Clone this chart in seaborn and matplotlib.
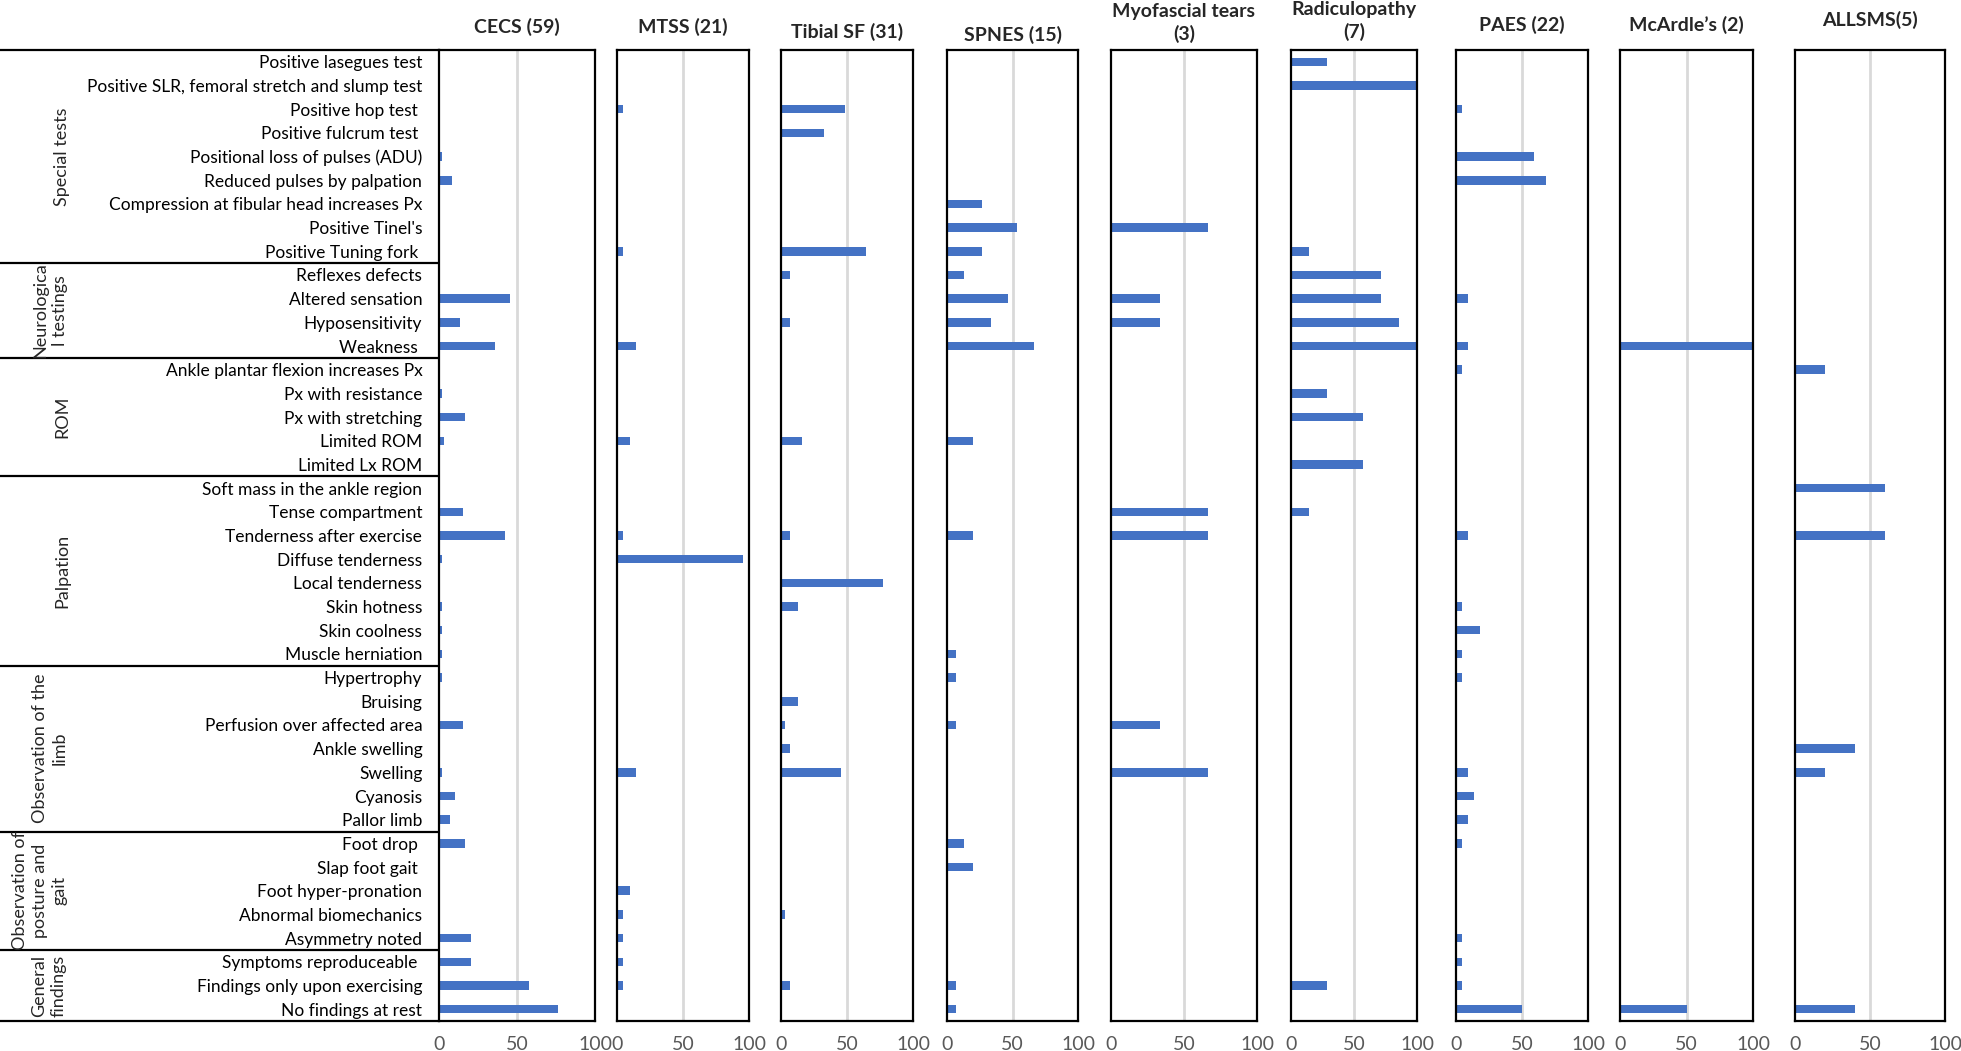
import pandas as pd
import seaborn as sns
import matplotlib.pyplot as plt

# rows of the clinical-findings table (top to bottom)
findings = [
    "Positive lasegues test", "Positive SLR, femoral stretch and slump test",
    "Positive hop test ", "Positive fulcrum test ", "Positional loss of pulses (ADU)",
    "Reduced pulses by palpation", "Compression at fibular head increases Px",
    "Positive Tinel's", "Positive Tuning fork ",
    "Reflexes defects", "Altered sensation", "Hyposensitivity", "Weakness ",
    "Ankle plantar flexion increases Px", "Px with resistance", "Px with stretching",
    "Limited ROM", "Limited Lx ROM",
    "Soft mass in the ankle region", "Tense compartment", "Tenderness after exercise",
    "Diffuse tenderness", "Local tenderness", "Skin hotness", "Skin coolness",
    "Muscle herniation",
    "Hypertrophy", "Bruising", "Perfusion over affected area", "Ankle swelling",
    "Swelling", "Cyanosis", "Pallor limb",
    "Foot drop ", "Slap foot gait ", "Foot hyper-pronation", "Abnormal biomechanics",
    "Asymmetry noted",
    "Symptoms reproduceable ", "Findings only upon exercising", "No findings at rest",
]

groups = ["Special tests", "Neurologica\nl testings", "ROM", "Palpation",
          "Observation of the\nlimb", "Observation of\nposture and\ngait", "General\nfindings"]
group_sizes = [9, 4, 5, 8, 7, 5, 3]

conditions = ["CECS (59)", "MTSS (21)", "Tibial SF (31)", "SPNES (15)",
              "Myofascial tears\n(3)", "Radiculopathy\n(7)", "PAES (22)",
              "McArdle’s (2)", "ALLSMS(5)"]

# percentages per row
cecs = [0, 0, 0, 0, 1.7, 8.5, 0, 0, 0,
        0, 45.8, 13.6, 35.6,
        0, 1.7, 16.9, 3.4, 0,
        0, 15.3, 42.4, 1.7, 0, 1.7, 1.7, 1.7,
        1.7, 0, 15.3, 0, 1.7, 10.2, 6.8,
        16.9, 0, 0, 0, 20.3,
        20.3, 57.6, 76.3]
mtss = [0, 0, 4.8, 0, 0, 0, 0, 0, 4.8,
        0, 0, 0, 14.3,
        0, 0, 0, 9.5, 0,
        0, 0, 4.8, 95.2, 0, 0, 0, 0,
        0, 0, 0, 0, 14.3, 0, 0,
        0, 0, 9.5, 4.8, 4.8,
        4.8, 4.8, 0]
tibial_sf = [0, 0, 48.4, 32.3, 0, 0, 0, 0, 64.5,
             6.5, 0, 6.5, 0,
             0, 0, 0, 16.1, 0,
             0, 0, 6.5, 0, 77.4, 12.9, 0, 0,
             0, 12.9, 3.2, 6.5, 45.2, 0, 0,
             0, 0, 0, 3.2, 0,
             0, 6.5, 0]
spnes = [0, 0, 0, 0, 0, 0, 26.7, 53.3, 26.7,
         13.3, 46.7, 33.3, 66.7,
         0, 0, 0, 20, 0,
         0, 0, 20, 0, 0, 0, 0, 6.7,
         6.7, 0, 6.7, 0, 0, 0, 0,
         13.3, 20, 0, 0, 0,
         0, 6.7, 6.7]
myofascial = [0, 0, 0, 0, 0, 0, 0, 66.7, 0,
              0, 33.3, 33.3, 0,
              0, 0, 0, 0, 0,
              0, 66.7, 66.7, 0, 0, 0, 0, 0,
              0, 0, 33.3, 0, 66.7, 0, 0,
              0, 0, 0, 0, 0,
              0, 0, 0]
radiculopathy = [28.6, 100, 0, 0, 0, 0, 0, 0, 14.3,
                 71.4, 71.4, 85.7, 100,
                 0, 28.6, 57.1, 0, 57.1,
                 0, 14.3, 0, 0, 0, 0, 0, 0,
                 0, 0, 0, 0, 0, 0, 0,
                 0, 0, 0, 0, 0,
                 0, 28.6, 0]
paes = [0, 0, 4.5, 0, 59.1, 68.2, 0, 0, 0,
        0, 9.1, 0, 9.1,
        4.5, 0, 0, 0, 0,
        0, 0, 9.1, 0, 0, 4.5, 18.2, 4.5,
        4.5, 0, 0, 0, 9.1, 13.6, 9.1,
        4.5, 0, 0, 0, 4.5,
        4.5, 4.5, 50]
mcardle = [0, 0, 0, 0, 0, 0, 0, 0, 0,
           0, 0, 0, 100,
           0, 0, 0, 0, 0,
           0, 0, 0, 0, 0, 0, 0, 0,
           0, 0, 0, 0, 0, 0, 0,
           0, 0, 0, 0, 0,
           0, 0, 50]
allsms = [0, 0, 0, 0, 0, 0, 0, 0, 0,
          0, 0, 0, 0,
          20, 0, 0, 0, 0,
          60, 0, 60, 0, 0, 0, 0, 0,
          0, 0, 0, 40, 20, 0, 0,
          0, 0, 0, 0, 0,
          0, 0, 40]

series = [cecs, mtss, tibial_sf, spnes, myofascial, radiculopathy, paes, mcardle, allsms]

sns.set_theme(style="white")
plt.rcParams["font.family"] = ["Lato", "DejaVu Sans"]

W, H = 1961, 1051
fig = plt.figure(figsize=(W / 100, H / 100), dpi=100)


def px_rect(x0, x1, y0, y1):
    return [x0 / W, 1 - y1 / H, (x1 - x0) / W, (y1 - y0) / H]


# layout in pixels: left/right edge of each panel, title height
panel_x = [(439, 595), (617, 749), (781, 913), (947, 1078), (1111, 1257),
           (1291, 1417), (1456, 1588), (1620, 1753), (1795, 1945)]
title_y = [27, 27, 32, 35, 23, 21, 25, 25, 20]
top, bottom = 50, 1021

# left table with group labels (drawn first, transparent, so row labels stay visible)
tab = fig.add_axes(px_rect(0, 439, top, bottom))
tab.patch.set_visible(False)

axes = []
for i, (name, vals) in enumerate(zip(conditions, series)):
    x0, x1 = panel_x[i]
    ax = fig.add_axes(px_rect(x0, x1, top, bottom))
    df = pd.DataFrame({"Finding": findings, "Percent": vals})
    sns.barplot(data=df, x="Percent", y="Finding", order=findings, orient="h",
                color="#4472C4", saturation=1, width=0.36, linewidth=0, ax=ax, zorder=3)
    ax.axvline(50, color="#D9D9D9", lw=2, zorder=1)
    ax.set_xlim(0, 100)
    ax.set_xticks([0, 50, 100])
    ax.set_xticklabels(["0", "50", "100"])
    ax.tick_params(axis="x", length=0, pad=11, labelsize=14, labelcolor="#595959")
    ax.tick_params(axis="y", length=0)
    ax.set_xlabel("")
    ax.set_ylabel("")
    for sp in ax.spines.values():
        sp.set_visible(True)
        sp.set_color("black")
        sp.set_linewidth(1.6)
        sp.set_zorder(4)
    if i == 0:
        ax.tick_params(axis="y", pad=12, labelsize=12.5, labelcolor="black")
    else:
        ax.tick_params(axis="y", labelleft=False)
    fig.text((x0 + x1) / 2 / W, 1 - title_y[i] / H, name, ha="center", va="center",
             fontsize=14, fontweight="bold", linespacing=1.35)
    axes.append(ax)

tab.set_ylim(axes[0].get_ylim())
tab.set_xlim(0, 439)
tab.set_xticks([])
tab.set_yticks([])
for side in ["left", "right"]:
    tab.spines[side].set_visible(False)
for side in ["top", "bottom"]:
    tab.spines[side].set_color("black")
    tab.spines[side].set_linewidth(1.6)

group_x = [62, 50, 62, 62, 50, 40, 49]
start = 0
for name, n, gx in zip(groups, group_sizes, group_x):
    end = start + n
    if end < len(findings):
        tab.axhline(end - 0.5, color="black", lw=1.6)
    tab.text(gx, (start + end - 1) / 2, name, rotation=90, ha="center", va="center",
             fontsize=13, multialignment="center", linespacing=1.3)
    start = end

fig.savefig("out.png", dpi=100)
